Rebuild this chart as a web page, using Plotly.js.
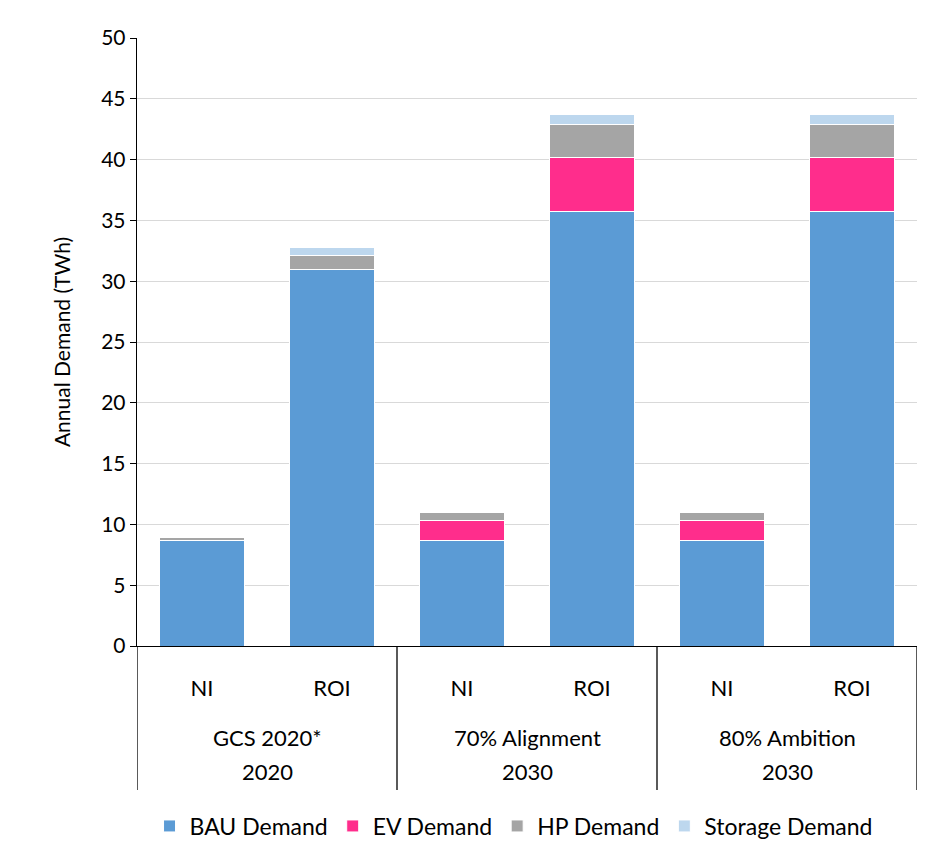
<!DOCTYPE html>
<html>
<head>
<meta charset="utf-8">
<script src="https://cdn.plot.ly/plotly-3.0.1.min.js"></script>
<style>html,body{margin:0;padding:0;background:#fff;}#chart{width:932px;height:842px;}</style>
</head>
<body>
<div id="chart"></div>
<script>
// Data
const barLabels = ["NI", "ROI", "NI", "ROI", "NI", "ROI"];
const groupNames = ["GCS 2020*", "70% Alignment", "80% Ambition"];
const groupYears = ["2020", "2030", "2030"];
const bauDemand = [8.65, 31.0, 8.65, 35.7, 8.65, 35.7];
const evDemand = [0, 0, 1.7, 4.5, 1.7, 4.5];
const hpDemand = [0.3, 1.1, 0.65, 2.7, 0.65, 2.7];
const storageDemand = [0, 0.7, 0, 0.8, 0, 0.8];
const seriesNames = ["BAU Demand", "EV Demand", "HP Demand", "Storage Demand"];
const seriesColors = ["#5B9BD5", "#FF2D8C", "#A5A5A5", "#BDD7EE"];

const FONT = "Lato, 'Open Sans', sans-serif";
const xpos = barLabels.map((_, i) => i);
const allSeries = [bauDemand, evDemand, hpDemand, storageDemand];

const traces = allSeries.map((vals, k) => ({
  type: "bar",
  x: xpos,
  y: vals,
  name: seriesNames[k],
  width: 0.65,
  marker: { color: seriesColors[k], line: { color: "#ffffff", width: 1 } },
  hoverinfo: "y+name"
}));

const shapes = [];
const dividerX = [-0.5, 1.5, 3.5, 5.5];
dividerX.forEach(xv => {
  shapes.push({ type: "line", xref: "x", yref: "paper", x0: xv, x1: xv, y0: 0, y1: -0.237,
    line: { color: "#000", width: 1.3 } });
});

const annotations = [];
groupNames.forEach((g, i) => {
  annotations.push({ x: 2 * i + 0.5, y: -0.1497, xref: "x", yref: "paper", text: g, showarrow: false,
    xanchor: "center", yanchor: "middle", font: { family: FONT, size: 22, color: "#000" } });
  annotations.push({ x: 2 * i + 0.5, y: -0.2056, xref: "x", yref: "paper", text: groupYears[i], showarrow: false,
    xanchor: "center", yanchor: "middle", font: { family: FONT, size: 22, color: "#000" } });
});

const layout = {
  width: 932, height: 842,
  margin: { l: 137, r: 15, t: 38, b: 196, autoexpand: false },
  paper_bgcolor: "#fff", plot_bgcolor: "#fff",
  barmode: "stack",
  showlegend: true,
  legend: { orientation: "h", xref: "container", yref: "container", x: 0.551, xanchor: "center", y: 0.019, yanchor: "middle",
    font: { family: FONT, size: 23, color: "#000" }, itemwidth: 30, traceorder: "normal" },
  xaxis: {
    range: [-0.5, 5.5], tickvals: xpos, ticktext: barLabels, showgrid: false, zeroline: false,
    showline: true, linecolor: "#000", linewidth: 1.3, ticks: "",
    tickfont: { family: FONT, size: 22, color: "#000" }, ticklabelstandoff: 22, fixedrange: true
  },
  yaxis: {
    range: [0, 50], dtick: 5, showgrid: true, gridcolor: "#D9D9D9", gridwidth: 1,
    showline: true, linecolor: "#000", linewidth: 1.3, ticks: "outside", ticklen: 6, tickcolor: "#000",
    zeroline: false, tickfont: { family: FONT, size: 21, color: "#000" },
    title: { text: "Annual Demand (TWh)", font: { family: FONT, size: 21, color: "#000" }, standoff: 24 }
  },
  shapes: shapes,
  annotations: annotations
};

Plotly.newPlot("chart", traces, layout, { displayModeBar: false, staticPlot: true });
</script>
</body>
</html>
